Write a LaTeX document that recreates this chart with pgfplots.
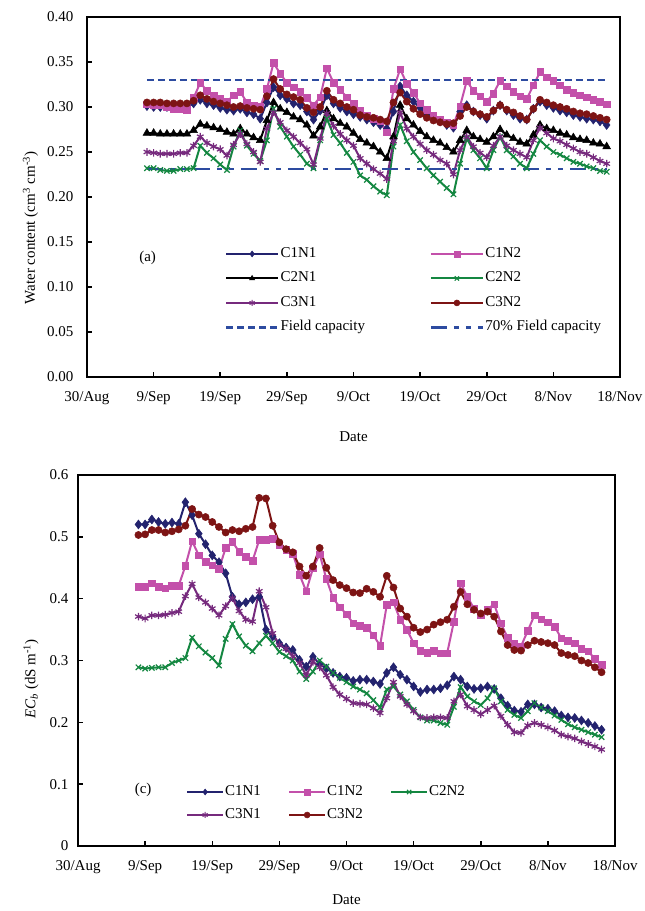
\documentclass[border=0pt]{standalone}
\usepackage{fontspec}
\setmainfont{Liberation Serif}
\usepackage{pgfplots}
\usepackage{pgfplotstable}
\pgfplotsset{compat=1.18}

\definecolor{cnavy}{RGB}{35,35,110}
\definecolor{cpink}{RGB}{195,80,170}
\definecolor{cgreen}{RGB}{20,135,65}
\definecolor{cpurple}{RGB}{118,42,125}
\definecolor{cred}{RGB}{125,20,20}
\definecolor{cblue}{RGB}{45,75,160}

% water content, days after 30 Aug
\pgfplotstableread{
day c1n1 c1n2 c2n1 c2n2 c3n1 c3n2
9  .301 .303 .271 .232 .250 .305
10 .300 .302 .271 .232 .249 .305
11 .300 .302 .270 .230 .248 .305
12 .300 .300 .270 .229 .248 .304
13 .299 .298 .270 .229 .248 .304
14 .299 .298 .270 .231 .249 .304
15 .300 .297 .270 .231 .249 .304
16 .304 .310 .274 .232 .257 .307
17 .308 .327 .281 .257 .267 .313
18 .304 .318 .279 .249 .260 .309
19 .302 .313 .277 .243 .256 .306
20 .299 .309 .275 .236 .253 .304
21 .297 .306 .272 .230 .246 .302
22 .296 .313 .270 .256 .258 .300
23 .298 .317 .276 .274 .270 .301
24 .294 .305 .270 .257 .259 .299
25 .292 .302 .266 .248 .250 .298
26 .287 .300 .263 .240 .239 .297
27 .305 .320 .285 .263 .276 .312
28 .322 .349 .305 .298 .294 .331
29 .313 .337 .298 .278 .283 .320
30 .309 .327 .294 .267 .274 .314
31 .304 .322 .289 .256 .267 .311
32 .302 .317 .286 .247 .260 .308
33 .295 .310 .280 .237 .253 .299
34 .286 .302 .268 .232 .236 .294
35 .296 .311 .278 .263 .265 .300
36 .313 .343 .296 .287 .293 .318
37 .304 .327 .287 .269 .279 .308
38 .299 .319 .282 .260 .270 .304
39 .295 .311 .278 .249 .263 .300
40 .292 .304 .271 .239 .257 .297
41 .289 .296 .264 .224 .243 .291
42 .286 .290 .260 .219 .237 .289
43 .283 .287 .256 .212 .231 .288
44 .280 .284 .250 .206 .226 .286
45 .276 .272 .243 .202 .220 .284
46 .295 .320 .267 .256 .262 .305
47 .323 .342 .302 .280 .294 .316
48 .313 .326 .287 .262 .276 .306
49 .306 .316 .280 .250 .267 .298
50 .299 .304 .273 .241 .259 .292
51 .292 .297 .267 .232 .252 .288
52 .287 .290 .263 .224 .247 .285
53 .284 .286 .260 .217 .241 .283
54 .280 .283 .255 .210 .237 .281
55 .277 .280 .250 .203 .225 .282
56 .295 .301 .263 .237 .252 .290
57 .302 .329 .274 .265 .267 .300
58 .295 .318 .267 .252 .256 .295
59 .291 .312 .264 .243 .249 .292
60 .287 .306 .261 .232 .244 .289
61 .296 .315 .267 .252 .257 .296
62 .302 .329 .275 .267 .267 .302
63 .296 .323 .269 .252 .257 .297
64 .291 .317 .265 .245 .252 .294
65 .287 .312 .261 .237 .248 .290
66 .286 .309 .259 .232 .244 .286
67 .298 .324 .269 .248 .263 .298
68 .306 .339 .280 .263 .277 .308
69 .302 .333 .276 .256 .271 .305
70 .299 .329 .274 .250 .265 .302
71 .296 .324 .271 .247 .262 .300
72 .294 .319 .269 .243 .258 .298
73 .291 .316 .266 .239 .254 .295
74 .289 .313 .264 .237 .250 .293
75 .287 .311 .263 .234 .248 .292
76 .286 .308 .260 .232 .244 .290
77 .284 .306 .259 .229 .240 .288
78 .280 .303 .256 .228 .237 .286
}\wc

% bulk EC
\pgfplotstableread{
day c1n1 c1n2 c2n2 c3n1 c3n2
9  .520 .419 .289 .371 .503
10 .520 .419 .287 .368 .504
11 .528 .425 .288 .373 .511
12 .524 .419 .289 .373 .511
13 .521 .417 .289 .374 .507
14 .523 .421 .296 .377 .509
15 .521 .421 .300 .379 .512
16 .556 .453 .304 .404 .518
17 .535 .493 .337 .424 .545
18 .505 .470 .323 .402 .536
19 .488 .460 .313 .394 .532
20 .470 .454 .304 .384 .524
21 .459 .448 .292 .373 .516
22 .441 .482 .335 .388 .507
23 .403 .492 .359 .401 .511
24 .391 .476 .339 .380 .509
25 .394 .468 .324 .366 .513
26 .399 .461 .315 .363 .516
27 .403 .495 .328 .412 .563
28 .350 .495 .340 .386 .562
29 .339 .497 .328 .344 .518
30 .328 .487 .314 .325 .491
31 .321 .479 .307 .319 .480
32 .317 .473 .300 .307 .475
33 .301 .439 .282 .296 .452
34 .290 .412 .270 .276 .437
35 .306 .449 .282 .298 .452
36 .294 .472 .300 .289 .482
37 .287 .432 .290 .276 .450
38 .280 .401 .280 .257 .430
39 .274 .386 .272 .245 .422
40 .272 .375 .265 .238 .417
41 .267 .360 .258 .231 .410
42 .269 .356 .253 .230 .409
43 .269 .353 .247 .229 .416
44 .266 .341 .236 .223 .411
45 .262 .324 .224 .215 .403
46 .280 .390 .253 .239 .437
47 .289 .394 .258 .265 .418
48 .277 .366 .245 .242 .384
49 .269 .350 .234 .229 .371
50 .258 .328 .220 .218 .353
51 .249 .316 .208 .208 .346
52 .253 .313 .203 .207 .350
53 .253 .316 .203 .208 .358
54 .255 .312 .199 .208 .362
55 .260 .312 .196 .207 .366
56 .274 .363 .225 .234 .387
57 .269 .425 .257 .245 .411
58 .258 .403 .242 .226 .391
59 .254 .384 .234 .220 .382
60 .255 .374 .228 .213 .376
61 .258 .383 .239 .220 .379
62 .254 .391 .255 .227 .371
63 .239 .360 .234 .210 .347
64 .227 .337 .220 .196 .325
65 .219 .328 .212 .184 .317
66 .217 .323 .207 .183 .316
67 .229 .348 .218 .195 .325
68 .229 .373 .231 .199 .332
69 .224 .367 .224 .196 .330
70 .222 .362 .218 .192 .328
71 .218 .355 .211 .187 .325
72 .211 .336 .204 .180 .312
73 .208 .332 .197 .177 .309
74 .207 .328 .192 .174 .307
75 .203 .319 .188 .169 .300
76 .199 .315 .184 .165 .296
77 .194 .303 .180 .161 .289
78 .188 .293 .176 .156 .281
}\ec

\pgfplotsset{
  panel/.style={
    scale only axis,
    xmin=0, xmax=80,
    xtick={0,10,...,80},
    xticklabels={30/Aug,9/Sep,19/Sep,29/Sep,9/Oct,19/Oct,29/Oct,8/Nov,18/Nov},
    tick align=inside,
    tick pos=left,
    major tick length=5pt,
    tick style={line width=1.5pt, black},
    axis line style={line width=2.5pt},
    /pgf/number format/assume math mode=true,
    xticklabel style={yshift=-11pt},
    xlabel={Date},
    legend cell align=left,
  },
  s1/.style={cnavy, line width=2pt, mark=diamond*, mark size=4.5pt, mark options={solid, line width=0.5pt}},
  s2/.style={cpink, line width=2pt, mark=square*, mark size=3.3pt, mark options={solid, line width=0.5pt}},
  s3/.style={black, line width=2pt, mark=triangle*, mark size=4.5pt, mark options={solid, line width=0.5pt}},
  s4/.style={cgreen, line width=2pt, mark=x, mark size=3.8pt, mark options={solid, line width=1.2pt}},
  s5/.style={cpurple, line width=2pt, mark=asterisk, mark size=3.8pt, mark options={solid, line width=1.2pt}},
  s6/.style={cred, line width=2pt, mark=*, mark size=3.6pt, mark options={solid, line width=0.5pt}},
}

\begin{document}
\begin{tikzpicture}[font=\fontsize{15}{18}\selectfont]
\path[use as bounding box] (0pt,0pt) rectangle (645pt,911pt);

% (a) water content
\begin{axis}[panel,
  at={(87pt,534pt)}, anchor=south west,
  width=533pt, height=360pt,
  ymin=0, ymax=0.4,
  ytick={0,0.05,...,0.4},
  yticklabel style={xshift=-10pt, /pgf/number format/fixed, /pgf/number format/fixed zerofill, /pgf/number format/precision=2},
  ylabel={Water content (cm\textsuperscript{3} cm\textsuperscript{-3})},
  ylabel style={at={(axis description cs:-0.106,0.414)}, anchor=center},
  xlabel style={at={(axis description cs:0.5,-0.167)}, anchor=center},
  legend columns=2,
  legend style={draw=none, fill=none, inner sep=0pt,
    at={(0.258,0.366)}, anchor=north west,
    row sep=7.5pt,
    nodes={inner sep=1pt, text height=11pt, text depth=4pt},
    /tikz/every even column/.append style={column sep=0pt}},
  legend image code/.code={\draw[mark repeat=2, mark phase=2, #1, mark size=3pt]
    plot coordinates {(0pt,0pt) (26pt,0pt) (52pt,0pt)};},
]
\addplot[s1] table[x=day, y=c1n1] {\wc};
\addlegendentry{\makebox[148pt][l]{C1N1}}
\addplot[s2] table[x=day, y=c1n2] {\wc};
\addlegendentry{C1N2}
\addplot[s3] table[x=day, y=c2n1] {\wc};
\addlegendentry{\makebox[148pt][l]{C2N1}}
\addplot[s4] table[x=day, y=c2n2] {\wc};
\addlegendentry{C2N2}
\addplot[s5] table[x=day, y=c3n1] {\wc};
\addlegendentry{\makebox[148pt][l]{C3N1}}
\addplot[s6] table[x=day, y=c3n2] {\wc};
\addlegendentry{C3N2}
\addplot[cblue, line width=2.8pt, dash pattern=on 7pt off 4pt] coordinates {(9,0.33) (78,0.33)};
\addlegendentry{\makebox[148pt][l]{Field capacity}}
\addplot[cblue, line width=2.8pt, dash pattern=on 16pt off 7pt on 5pt off 7pt on 5pt off 7pt] coordinates {(9,0.231) (78,0.231)};
\addlegendentry{70\% Field capacity}
\node at (axis cs:9.1,0.132) {(a)};
\end{axis}

% (c) bulk EC
\begin{axis}[panel,
  at={(78pt,65pt)}, anchor=south west,
  width=537pt, height=371pt,
  ymin=0, ymax=0.6,
  ytick={0,0.1,0.2,0.3,0.4,0.5,0.6},
  yticklabel style={xshift=-6pt, /pgf/number format/fixed, /pgf/number format/precision=1},
  ylabel={\textit{EC}\textsubscript{\textit{b}} (dS m\textsuperscript{-1})},
  ylabel style={at={(axis description cs:-0.0875,0.45)}, anchor=center},
  xlabel style={at={(axis description cs:0.5,-0.145)}, anchor=center},
  legend columns=3,
  legend style={draw=none, fill=none, inner sep=0pt,
    at={(0.201,0.169)}, anchor=north west,
    row sep=6pt,
    nodes={inner sep=1pt, text height=11pt, text depth=4pt},
    /tikz/every even column/.append style={column sep=0pt}},
  legend image code/.code={\draw[mark repeat=2, mark phase=2, #1, mark size=3pt]
    plot coordinates {(0pt,0pt) (18pt,0pt) (36pt,0pt)};},
]
\addplot[s1] table[x=day, y=c1n1] {\ec};
\addlegendentry{\makebox[62pt][l]{C1N1}}
\addplot[s2] table[x=day, y=c1n2] {\ec};
\addlegendentry{\makebox[62pt][l]{C1N2}}
\addplot[s4] table[x=day, y=c2n2] {\ec};
\addlegendentry{C2N2}
\addplot[s5] table[x=day, y=c3n1] {\ec};
\addlegendentry{\makebox[62pt][l]{C3N1}}
\addplot[s6] table[x=day, y=c3n2] {\ec};
\addlegendentry{\makebox[62pt][l]{C3N2}}
\node at (axis cs:9.7,0.090) {(c)};
\end{axis}
\end{tikzpicture}
\end{document}
